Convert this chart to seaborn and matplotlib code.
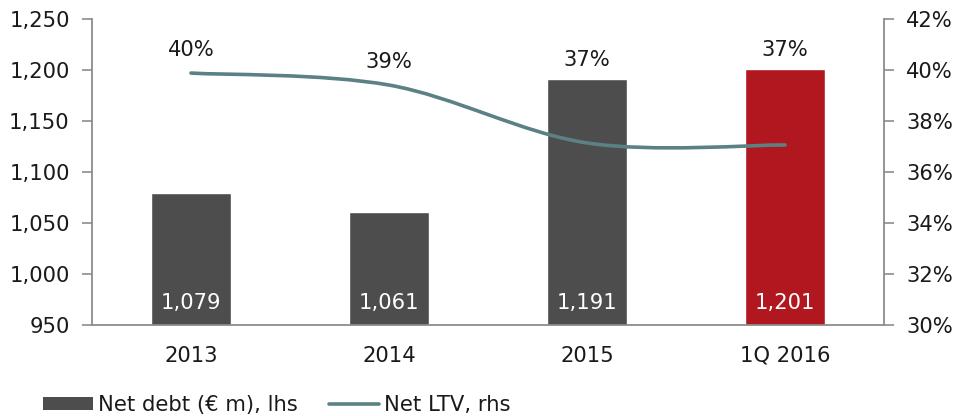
import numpy as np
import pandas as pd
import matplotlib
matplotlib.use("Agg")
import matplotlib.pyplot as plt
import seaborn as sns
from matplotlib.path import Path
from matplotlib.patches import PathPatch, Patch
from matplotlib.lines import Line2D
from matplotlib.ticker import FuncFormatter, FixedLocator

categories = ["2013", "2014", "2015", "1Q 2016"]
net_debt = [1079, 1061, 1191, 1201]
net_ltv = [39.88, 39.41, 37.14, 37.06]
ltv_labels = ["40%", "39%", "37%", "37%"]
debt_labels = ["1,079", "1,061", "1,191", "1,201"]
left_ticks = [950, 1000, 1050, 1100, 1150, 1200, 1250]
right_ticks = [30, 32, 34, 36, 38, 40, 42]

bar_colors = ["#4d4d4d", "#4d4d4d", "#4d4d4d", "#b1171f"]
line_color = "#5b8184"
axis_color = "#8c8c8c"
text_color = "#1a1a1a"

sns.set_style("white")
plt.rcParams["font.family"] = ["DejaVu Sans"]
FS = 15.2

fig = plt.figure(figsize=(9.55, 4.16), dpi=100)
ax = fig.add_axes([92 / 955, 1 - 325 / 416, (884 - 92) / 955, (325 - 19) / 416])

df = pd.DataFrame({"cat": categories, "debt": net_debt})
sns.barplot(data=df, x="cat", y="debt", hue="cat", palette=bar_colors,
            width=0.4, legend=False, ax=ax, saturation=1)
ax.set_xlim(-0.5, 3.5)
ax.set_ylim(950, 1250)
ax.set_yticks(left_ticks)
ax.yaxis.set_major_formatter(FuncFormatter(lambda v, p: f"{int(v):,}"))
ax.set_xlabel("")
ax.set_ylabel("")

ax.xaxis.set_minor_locator(FixedLocator([-0.5, 0.5, 1.5, 2.5, 3.5]))
ax.tick_params(axis="x", which="major", length=0, labelsize=FS, colors=text_color, pad=15)
ax.tick_params(axis="x", which="minor", length=6, width=1.2, color=axis_color, direction="out")
ax.tick_params(axis="y", length=7, width=1.2, color=axis_color, labelsize=FS,
               labelcolor=text_color, direction="out", left=True, pad=9)
for s in ["left", "bottom"]:
    ax.spines[s].set_color(axis_color)
    ax.spines[s].set_linewidth(1.3)
ax.spines["top"].set_visible(False)
ax.spines["right"].set_visible(False)

ax2 = ax.twinx()
ax2.set_ylim(30, 42)
ax2.set_yticks(right_ticks)
ax2.yaxis.set_major_formatter(FuncFormatter(lambda v, p: f"{int(v)}%"))
ax2.tick_params(axis="y", length=7, width=1.2, color=axis_color, labelsize=FS,
                labelcolor=text_color, direction="out", right=True, pad=9)
for s in ["top", "left", "bottom"]:
    ax2.spines[s].set_visible(False)
ax2.spines["right"].set_color(axis_color)
ax2.spines["right"].set_linewidth(1.3)
ax2.grid(False)
ax.grid(False)

# smoothed line (Excel-style Bezier) through data points
xs = np.arange(len(net_ltv), dtype=float)
ys = np.array(net_ltv, dtype=float)
pts = np.column_stack([xs, ys])
verts = [tuple(pts[0])]
codes = [Path.MOVETO]
n = len(pts)
for i in range(n - 1):
    p_prev = pts[i - 1] if i > 0 else pts[i]
    p_next2 = pts[i + 2] if i + 2 < n else pts[i + 1]
    c1 = pts[i] + (pts[i + 1] - p_prev) / 6
    c2 = pts[i + 1] - (p_next2 - pts[i]) / 6
    verts += [tuple(c1), tuple(c2), tuple(pts[i + 1])]
    codes += [Path.CURVE4] * 3
patch = PathPatch(Path(verts, codes), facecolor="none", edgecolor=line_color,
                  lw=2.6, capstyle="round", transform=ax2.transData)
ax2.add_patch(patch)

# labels
for i in range(len(categories)):
    ax.annotate(debt_labels[i], xy=(i, 950), xytext=(0, 16), textcoords="offset points",
                ha="center", va="center", color="white", fontsize=FS)
    bar_frac = (net_debt[i] - 950) / 300
    line_frac = (net_ltv[i] - 30) / 12
    top = max(bar_frac, line_frac)
    off = 14 if bar_frac > line_frac else 16.5
    ax.annotate(ltv_labels[i], xy=(i, top),
                xycoords=ax.get_xaxis_transform(), xytext=(0, off), textcoords="offset points",
                ha="center", va="center", color=text_color, fontsize=FS)

handles = [Patch(facecolor="#4d4d4d", edgecolor="none"),
           Line2D([0], [0], color=line_color, lw=2.6)]
fig.legend(handles, ["Net debt (€ m), lhs", "Net LTV, rhs"], loc="center left",
           bbox_to_anchor=(24 / 955, 1 - 405 / 416), ncol=2, frameon=False,
           fontsize=FS, handlelength=2.35, handleheight=0.6, handletextpad=0.25,
           columnspacing=1.5, labelcolor=text_color)

fig.savefig("out.png", dpi=100)
